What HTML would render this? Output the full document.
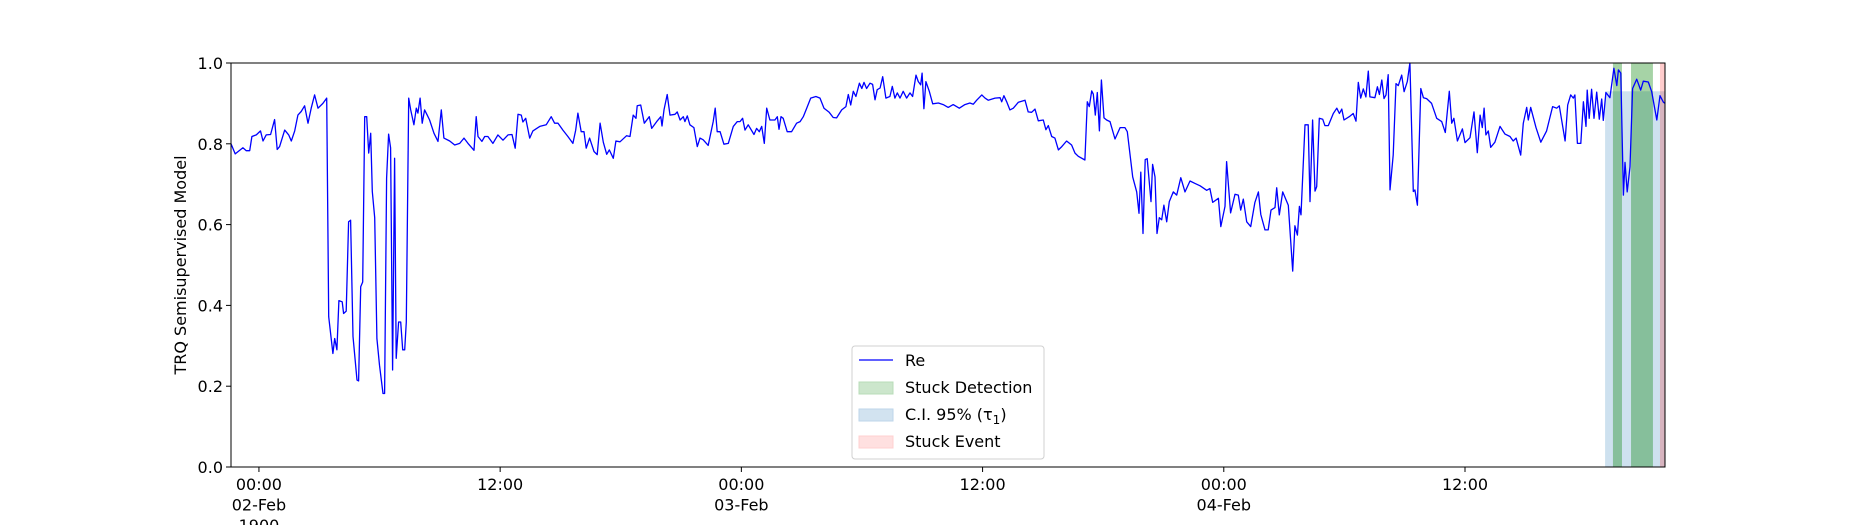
<!DOCTYPE html>
<html><head><meta charset="utf-8"><style>
html,body{margin:0;padding:0;background:#fff;}
svg{display:block;font-family:"DejaVu Sans","Liberation Sans",sans-serif;}
</style></head><body>
<svg id="chart" width="1850" height="525" viewBox="0 0 1850 525">
<g id="spans"></g>
<g id="series"></g>
<g id="axes"></g>
<text x="0" y="0" transform="translate(186,265) rotate(-90)" text-anchor="middle" font-size="16">TRQ Semisupervised Model</text>
<g>
<rect x="852" y="346" width="192" height="113" rx="3" fill="#fff" fill-opacity="0.8" stroke="#d0d0d0"/>
<line x1="859" y1="360" x2="893" y2="360" stroke="#0000ff" stroke-width="1.3"/>
<text x="905" y="366" font-size="16">Re</text>
<rect x="859" y="382" width="34" height="12" fill="#cce6cc" stroke="#b8dcb8"/>
<text x="905" y="393" font-size="16">Stuck Detection</text>
<rect x="859" y="409" width="34" height="12" fill="#d2e3f0" stroke="#bed6ea"/>
<text x="905" y="420" font-size="16">C.I. 95% (τ<tspan font-size="12" dy="4">1</tspan><tspan dy="-4">)</tspan></text>
<rect x="859" y="436" width="34" height="12" fill="#ffe0e0" stroke="#ffd0d0"/>
<text x="905" y="447" font-size="16">Stuck Event</text>
</g>
</svg>
<script>
const times=[-1.39,-1.18,-0.80,-0.63,-0.46,-0.35,-0.13,0.08,0.20,0.36,0.58,0.78,0.91,1.03,1.28,1.48,1.61,1.78,1.94,2.10,2.27,2.44,2.60,2.77,2.94,3.18,3.37,3.47,3.68,3.77,3.88,3.98,4.14,4.21,4.34,4.46,4.56,4.68,4.88,4.96,5.06,5.16,5.26,5.36,5.46,5.56,5.64,5.76,5.87,6.00,6.17,6.25,6.35,6.45,6.55,6.65,6.75,6.83,6.95,7.05,7.15,7.25,7.33,7.45,7.55,7.71,7.83,7.91,8.02,8.12,8.24,8.37,8.49,8.71,8.91,9.07,9.20,9.49,9.74,9.99,10.20,10.40,10.70,10.81,10.90,11.09,11.23,11.39,11.64,11.89,12.14,12.39,12.59,12.75,12.89,13.05,13.13,13.27,13.47,13.63,13.97,14.29,14.54,14.71,14.88,15.12,15.37,15.62,15.76,15.87,16.03,16.17,16.28,16.45,16.67,16.83,16.97,17.13,17.30,17.43,17.63,17.76,17.96,18.29,18.46,18.62,18.76,18.82,18.99,19.17,19.42,19.54,19.79,19.99,20.05,20.15,20.31,20.45,20.70,20.81,20.95,21.11,21.19,21.31,21.44,21.64,21.81,21.94,22.10,22.35,22.60,22.70,22.80,22.94,23.13,23.35,23.60,23.80,23.93,24.06,24.18,24.34,24.63,24.76,24.89,25.01,25.14,25.26,25.42,25.67,25.79,25.87,25.97,26.08,26.28,26.50,26.75,26.92,27.08,27.25,27.45,27.71,27.91,28.11,28.37,28.57,28.74,28.99,29.20,29.32,29.44,29.57,29.70,29.87,29.99,30.10,30.23,30.40,30.53,30.65,30.76,30.90,31.03,31.19,31.39,31.51,31.64,31.76,31.89,32.05,32.22,32.39,32.52,32.69,32.80,32.92,32.99,33.08,33.18,33.35,33.52,33.80,34.04,34.29,34.54,34.84,35.12,35.37,35.54,35.71,35.96,36.12,36.28,36.62,36.87,36.95,37.06,37.20,37.36,37.53,37.78,38.11,38.27,38.44,38.61,38.77,39.02,39.15,39.27,39.44,39.60,39.77,39.94,40.18,40.43,40.60,40.76,41.09,41.21,41.31,41.43,41.51,41.61,41.71,41.81,41.91,42.04,42.17,42.34,42.59,42.84,43.08,43.20,43.47,43.67,43.78,43.87,43.98,44.09,44.19,44.38,44.46,44.58,44.68,44.79,44.91,45.02,45.16,45.29,45.49,45.66,45.86,46.07,46.32,46.57,46.82,47.15,47.31,47.45,47.73,47.85,48.06,48.14,48.34,48.56,48.72,48.84,48.97,49.14,49.34,49.55,49.72,49.84,50.05,50.21,50.35,50.55,50.63,50.76,50.93,51.21,51.43,51.54,51.66,51.76,51.84,52.04,52.20,52.29,52.42,52.54,52.62,52.75,52.92,53.03,53.20,53.45,53.62,53.75,53.87,53.98,54.24,54.44,54.58,54.69,54.81,54.94,55.07,55.19,55.27,55.52,55.64,55.74,55.86,55.97,56.07,56.18,56.27,56.43,56.57,56.68,56.85,56.97,57.13,57.26,57.43,57.51,57.63,57.80,57.93,58.09,58.34,58.59,58.84,59.02,59.22,59.34,59.45,59.62,59.87,60.00,60.25,60.45,60.61,60.75,60.86,60.95,61.04,61.16,61.28,61.49,61.74,61.99,62.24,62.40,62.54,62.77,62.90,63.07,63.15,63.27,63.53,63.77,64.06,64.36,64.56,64.69,64.98,65.11,65.26,65.39,65.47,65.59,65.76,65.89,66.02,66.08,66.18,66.30,66.42,66.55,66.68,66.80,66.88,67.01,67.21,67.41,67.55,67.63,67.75,67.88,67.96,68.07,68.21,68.34,68.54,68.74,68.87,69.12,69.29,69.54,69.70,69.87,69.95];
const values=[0.800,0.775,0.790,0.783,0.783,0.818,0.822,0.832,0.807,0.822,0.823,0.860,0.786,0.793,0.834,0.822,0.807,0.832,0.871,0.880,0.894,0.851,0.888,0.921,0.888,0.900,0.913,0.372,0.281,0.318,0.290,0.412,0.409,0.380,0.386,0.607,0.611,0.323,0.215,0.213,0.446,0.458,0.867,0.867,0.777,0.826,0.682,0.617,0.318,0.252,0.182,0.182,0.715,0.824,0.790,0.240,0.764,0.269,0.359,0.359,0.290,0.290,0.359,0.913,0.884,0.847,0.888,0.876,0.913,0.851,0.884,0.871,0.859,0.826,0.806,0.884,0.814,0.807,0.797,0.801,0.814,0.801,0.784,0.867,0.818,0.806,0.818,0.818,0.801,0.822,0.809,0.822,0.823,0.789,0.873,0.871,0.854,0.863,0.814,0.832,0.843,0.847,0.867,0.851,0.851,0.834,0.818,0.801,0.834,0.876,0.830,0.830,0.789,0.814,0.781,0.773,0.851,0.804,0.774,0.785,0.764,0.807,0.805,0.820,0.818,0.871,0.863,0.894,0.896,0.851,0.867,0.838,0.855,0.867,0.844,0.884,0.922,0.871,0.873,0.879,0.859,0.867,0.855,0.869,0.847,0.840,0.793,0.814,0.810,0.796,0.855,0.888,0.830,0.830,0.799,0.801,0.843,0.855,0.855,0.863,0.834,0.847,0.823,0.838,0.830,0.843,0.801,0.888,0.859,0.859,0.867,0.836,0.867,0.863,0.830,0.830,0.851,0.855,0.867,0.888,0.913,0.917,0.913,0.888,0.878,0.865,0.864,0.884,0.892,0.922,0.896,0.930,0.917,0.950,0.937,0.952,0.937,0.950,0.947,0.909,0.934,0.938,0.966,0.913,0.917,0.942,0.913,0.926,0.913,0.930,0.913,0.926,0.917,0.970,0.954,0.946,0.975,0.887,0.954,0.930,0.899,0.901,0.897,0.890,0.897,0.888,0.897,0.901,0.898,0.908,0.921,0.913,0.908,0.913,0.914,0.904,0.919,0.904,0.884,0.888,0.903,0.908,0.879,0.878,0.886,0.857,0.859,0.835,0.845,0.818,0.814,0.785,0.793,0.807,0.797,0.777,0.769,0.760,0.904,0.892,0.931,0.923,0.871,0.927,0.832,0.958,0.864,0.859,0.855,0.812,0.840,0.840,0.830,0.718,0.681,0.628,0.730,0.578,0.761,0.763,0.657,0.749,0.718,0.578,0.617,0.612,0.648,0.607,0.657,0.681,0.673,0.716,0.681,0.708,0.702,0.696,0.685,0.689,0.655,0.665,0.595,0.645,0.756,0.629,0.675,0.673,0.636,0.663,0.607,0.595,0.655,0.681,0.625,0.587,0.587,0.636,0.642,0.691,0.624,0.681,0.648,0.485,0.597,0.574,0.645,0.624,0.847,0.847,0.657,0.859,0.683,0.694,0.863,0.861,0.845,0.845,0.875,0.888,0.875,0.886,0.859,0.867,0.875,0.856,0.952,0.913,0.936,0.916,0.980,0.916,0.914,0.941,0.922,0.958,0.912,0.921,0.971,0.686,0.772,0.949,0.944,0.970,0.929,0.954,1.000,0.682,0.686,0.648,0.937,0.914,0.912,0.900,0.863,0.855,0.828,0.930,0.851,0.863,0.807,0.837,0.803,0.815,0.879,0.778,0.871,0.840,0.888,0.822,0.832,0.791,0.804,0.843,0.824,0.818,0.807,0.814,0.772,0.851,0.890,0.859,0.890,0.840,0.804,0.832,0.892,0.888,0.894,0.807,0.896,0.921,0.913,0.921,0.801,0.801,0.904,0.843,0.933,0.863,0.935,0.863,0.928,0.861,0.911,0.858,0.927,0.914,0.987,0.944,0.983,0.975,0.673,0.754,0.681,0.743,0.937,0.960,0.933,0.955,0.953,0.929,0.859,0.919,0.903,0.900];
const ciStart=[66.97];const ciEnd=[69.95];const ciTop=[0.93];
const detStart=[67.36,68.26];const detEnd=[67.81,69.35];
const evtStart=[69.70];const evtEnd=[69.95];
const yTicks=[0,0.2,0.4,0.6,0.8,1.0];
const yTickLabels=["0.0","0.2","0.4","0.6","0.8","1.0"];
const xTicks=[0,12,24,36,48,60];
const xTickLabels=[["00:00","02-Feb","1900"],["12:00"],["00:00","03-Feb"],["12:00"],["00:00","04-Feb"],["12:00"]];

const NS="http://www.w3.org/2000/svg";
const L=231,R=1665,T=63,B=467,X0=-1.39,X1=69.95;
const xs=h=>L+(h-X0)/(X1-X0)*(R-L);
const ys=v=>B-v*(B-T);
function mk(tag,attrs,parent){const e=document.createElementNS(NS,tag);for(const k in attrs)e.setAttribute(k,attrs[k]);parent.appendChild(e);return e;}
const spans=document.getElementById('spans'),series=document.getElementById('series'),axes=document.getElementById('axes');
ciStart.forEach((s,i)=>{const r=mk('rect',{x:xs(s),y:ys(ciTop[i]),width:xs(ciEnd[i])-xs(s),height:ys(0)-ys(ciTop[i]),fill:'#1f77b4','fill-opacity':0.22},spans);

});
detStart.forEach((s,i)=>{const r=mk('rect',{x:xs(s),y:ys(1),width:xs(detEnd[i])-xs(s),height:ys(0)-ys(1),fill:'#008000','fill-opacity':0.35},spans);

});
evtStart.forEach((s,i)=>{const r=mk('rect',{x:xs(s),y:ys(1),width:xs(evtEnd[i])-xs(s),height:ys(0)-ys(1),fill:'#ff0000','fill-opacity':0.2},spans);

});
const pts=times.map((t,i)=>xs(t).toFixed(1)+','+ys(values[i]).toFixed(1)).join(' ');
const pl=mk('polyline',{points:pts,fill:'none',stroke:'#0000ff','stroke-width':1.3,'stroke-linejoin':'round'},series);


const fr=mk('rect',{x:L,y:T,width:R-L,height:B-T,fill:'none',stroke:'#000','stroke-width':1},axes);


yTicks.forEach((v,i)=>{const y=ys(v);
const tk=mk('line',{x1:L-5,x2:L,y1:y,y2:y,stroke:'#000'},axes);


const tx=mk('text',{x:L-8,y:y+6,'text-anchor':'end','font-size':16},axes);tx.textContent=yTickLabels[i];

});
xTicks.forEach((h,i)=>{const x=xs(h);
const tk=mk('line',{x1:x,x2:x,y1:B,y2:B+5,stroke:'#000'},axes);


xTickLabels[i].forEach((s,j)=>{const tx=mk('text',{x:x,y:490+j*20.5,'text-anchor':'middle','font-size':16},axes);tx.textContent=s;

});});
</script>
</body></html>
